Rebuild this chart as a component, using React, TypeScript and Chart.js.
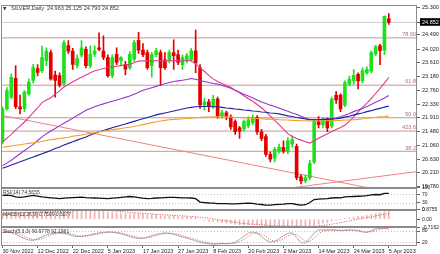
import React, { useEffect, useRef } from "react";
import { Chart, registerables } from "chart.js";
Chart.register(...registerables);

// ---------- data ----------
const dates = [
  "30 Nov 2022", "1 Dec 2022", "2 Dec 2022", "5 Dec 2022", "6 Dec 2022", "7 Dec 2022", "8 Dec 2022", "9 Dec 2022", "12 Dec 2022", "13 Dec 2022",
  "14 Dec 2022", "15 Dec 2022", "16 Dec 2022", "19 Dec 2022", "20 Dec 2022", "21 Dec 2022", "22 Dec 2022", "23 Dec 2022", "27 Dec 2022", "28 Dec 2022",
  "29 Dec 2022", "30 Dec 2022", "3 Jan 2023", "4 Jan 2023", "5 Jan 2023", "6 Jan 2023", "9 Jan 2023", "10 Jan 2023", "11 Jan 2023", "12 Jan 2023",
  "13 Jan 2023", "16 Jan 2023", "17 Jan 2023", "18 Jan 2023", "19 Jan 2023", "20 Jan 2023", "23 Jan 2023", "24 Jan 2023", "25 Jan 2023", "26 Jan 2023",
  "27 Jan 2023", "30 Jan 2023", "31 Jan 2023", "1 Feb 2023", "2 Feb 2023", "3 Feb 2023", "6 Feb 2023", "7 Feb 2023", "8 Feb 2023", "9 Feb 2023",
  "10 Feb 2023", "13 Feb 2023", "14 Feb 2023", "15 Feb 2023", "16 Feb 2023", "17 Feb 2023", "20 Feb 2023", "21 Feb 2023", "22 Feb 2023", "23 Feb 2023",
  "24 Feb 2023", "27 Feb 2023", "28 Feb 2023", "1 Mar 2023", "2 Mar 2023", "3 Mar 2023", "6 Mar 2023", "7 Mar 2023", "8 Mar 2023", "9 Mar 2023",
  "10 Mar 2023", "13 Mar 2023", "14 Mar 2023", "15 Mar 2023", "16 Mar 2023", "17 Mar 2023", "20 Mar 2023", "21 Mar 2023", "22 Mar 2023", "23 Mar 2023",
  "24 Mar 2023", "27 Mar 2023", "28 Mar 2023", "29 Mar 2023", "30 Mar 2023", "31 Mar 2023", "3 Apr 2023", "4 Apr 2023", "5 Apr 2023",
];
const dateTickIdx = [0, 8, 16, 24, 32, 40, 48, 56, 64, 72, 80, 88];

const opens = [
  21.18, 22.19, 22.55, 23.13, 22.25, 22.19, 22.65, 23.06, 23.43, 23.36,
  23.67, 23.92, 23.23, 23.21, 22.96, 24.14, 23.97, 23.53, 23.84, 24.02,
  23.52, 23.87, 24.07, 23.97, 23.77, 23.21, 23.87, 23.67, 23.56, 23.46,
  23.72, 24.30, 24.00, 23.92, 23.52, 23.86, 23.92, 23.70, 23.68, 23.92,
  23.86, 23.55, 23.68, 23.70, 23.98, 23.46, 22.31, 22.40, 22.25, 22.49,
  21.97, 22.06, 21.94, 21.79, 21.60, 21.57, 21.66, 21.76, 21.92, 21.48,
  21.33, 20.78, 20.66, 20.88, 21.00, 20.88, 21.10, 21.03, 20.09, 19.96,
  20.06, 20.55, 21.80, 21.70, 21.82, 21.66, 22.60, 22.61, 22.30, 22.95,
  23.05, 23.25, 23.05, 23.30, 23.35, 23.88, 24.13, 24.00, 24.963,
];
const highs = [
  22.25, 22.84, 23.26, 23.52, 22.61, 22.75, 23.11, 23.56, 23.55, 24.12,
  24.07, 24.00, 23.35, 23.30, 24.29, 24.29, 24.05, 23.85, 24.29, 24.10,
  24.13, 24.13, 24.53, 24.44, 23.85, 23.85, 24.07, 23.80, 23.65, 23.95,
  24.30, 24.55, 24.20, 24.00, 23.92, 24.05, 24.00, 23.92, 24.00, 24.32,
  24.00, 23.85, 23.90, 24.05, 24.62, 23.55, 22.50, 22.48, 22.60, 22.55,
  22.15, 22.12, 22.00, 21.85, 21.65, 21.85, 21.95, 22.00, 21.98, 21.55,
  21.40, 20.85, 21.00, 21.10, 21.20, 21.30, 21.35, 21.10, 20.15, 20.15,
  20.60, 21.85, 21.95, 21.90, 21.90, 22.55, 22.72, 22.65, 23.05, 23.20,
  23.40, 23.30, 23.45, 23.48, 23.98, 24.15, 24.18, 25.06, 25.125,
];
const lows = [
  21.10, 22.14, 22.50, 22.19, 22.03, 22.10, 22.60, 22.98, 23.20, 23.30,
  23.52, 23.07, 22.55, 22.86, 22.90, 23.90, 23.40, 23.45, 23.78, 23.45,
  23.45, 23.80, 23.98, 23.70, 23.16, 23.15, 23.55, 23.55, 23.23, 23.40,
  23.65, 23.90, 23.80, 23.40, 23.16, 23.80, 22.90, 23.40, 23.60, 23.40,
  23.55, 23.40, 23.60, 23.65, 23.30, 22.20, 22.15, 22.10, 22.20, 21.90,
  21.90, 21.85, 21.55, 21.40, 21.27, 21.50, 21.60, 21.70, 21.40, 21.20,
  20.72, 20.55, 20.55, 20.82, 20.82, 20.80, 21.00, 20.00, 19.87, 19.90,
  20.00, 20.50, 21.60, 21.60, 21.48, 21.60, 22.35, 22.10, 22.25, 22.90,
  22.95, 22.80, 22.98, 23.25, 23.30, 23.82, 23.55, 23.86, 24.79,
];
const closes = [
  22.19, 22.75, 23.16, 22.25, 22.18, 22.70, 23.01, 23.46, 23.31, 23.77,
  23.97, 23.11, 23.06, 22.92, 24.23, 23.97, 23.56, 23.74, 24.07, 23.52,
  23.87, 23.97, 24.02, 23.77, 23.21, 23.77, 23.62, 23.77, 23.41, 23.87,
  24.23, 24.00, 23.86, 23.46, 23.86, 23.98, 23.46, 23.46, 23.92, 23.83,
  23.62, 23.77, 23.83, 23.98, 23.60, 22.31, 22.40, 22.25, 22.49, 21.97,
  22.06, 21.97, 21.63, 21.48, 21.50, 21.79, 21.85, 21.92, 21.48, 21.27,
  20.78, 20.63, 20.94, 21.00, 20.88, 21.20, 21.24, 20.06, 19.96, 20.06,
  20.50, 21.80, 21.70, 21.82, 21.60, 22.49, 22.46, 22.18, 23.00, 23.10,
  23.22, 23.05, 23.37, 23.40, 23.92, 24.10, 23.98, 25.04, 24.852,
];

const maPink = [
  21.15, 21.28, 21.40, 21.53, 21.65, 21.78, 21.92, 22.07, 22.22, 22.38,
  22.46, 22.53, 22.64, 22.74, 22.86, 22.94, 23.02, 23.09, 23.16, 23.23,
  23.30, 23.36, 23.39, 23.43, 23.46, 23.48, 23.50, 23.52, 23.54, 23.56,
  23.61, 23.66, 23.67, 23.66, 23.66, 23.67, 23.67, 23.66, 23.67, 23.68,
  23.67, 23.67, 23.67, 23.67, 23.58, 23.45, 23.34, 23.22, 23.11, 23.03,
  22.97, 22.91, 22.85, 22.76, 22.68, 22.59, 22.50, 22.42, 22.32, 22.22,
  22.10, 21.96, 21.83, 21.70, 21.56, 21.42, 21.33, 21.27, 21.22, 21.17,
  21.13, 21.20, 21.28, 21.35, 21.42, 21.49, 21.55, 21.61, 21.68, 21.80,
  21.94, 22.09, 22.23, 22.36, 22.50, 22.66, 22.82, 22.98, 23.16,
];
const maPurple = [
  20.44, 20.51, 20.60, 20.70, 20.80, 20.90, 20.99, 21.09, 21.21, 21.32,
  21.42, 21.50, 21.58, 21.66, 21.74, 21.82, 21.90, 21.98, 22.06, 22.14,
  22.20, 22.25, 22.30, 22.34, 22.38, 22.42, 22.46, 22.50, 22.54, 22.58,
  22.64, 22.70, 22.76, 22.80, 22.84, 22.88, 22.92, 22.96, 23.00, 23.03,
  23.05, 23.07, 23.09, 23.12, 23.10, 23.06, 23.03, 23.00, 22.97, 22.95,
  22.91, 22.87, 22.82, 22.76, 22.70, 22.64, 22.58, 22.52, 22.46, 22.40,
  22.35, 22.30, 22.26, 22.21, 22.16, 22.11, 22.06, 22.02, 21.96, 21.90,
  21.86, 21.85, 21.85, 21.86, 21.87, 21.88, 21.90, 21.94, 21.99, 22.04,
  22.10, 22.15, 22.20, 22.26, 22.32, 22.39, 22.45, 22.52, 22.60,
];
const maBlue = [
  20.35, 20.40, 20.45, 20.50, 20.55, 20.60, 20.65, 20.70, 20.75, 20.80,
  20.85, 20.90, 20.96, 21.01, 21.07, 21.12, 21.17, 21.22, 21.27, 21.32,
  21.38, 21.43, 21.48, 21.52, 21.56, 21.60, 21.64, 21.68, 21.72, 21.76,
  21.80, 21.84, 21.88, 21.92, 21.96, 22.00, 22.03, 22.06, 22.09, 22.12,
  22.15, 22.18, 22.21, 22.23, 22.25, 22.26, 22.26, 22.26, 22.25, 22.25,
  22.23, 22.21, 22.20, 22.18, 22.17, 22.15, 22.14, 22.12, 22.11, 22.09,
  22.08, 22.06, 22.05, 22.03, 22.00, 21.97, 21.95, 21.92, 21.90, 21.87,
  21.85, 21.85, 21.85, 21.86, 21.86, 21.87, 21.88, 21.90, 21.93, 21.96,
  22.00, 22.03, 22.06, 22.10, 22.13, 22.17, 22.20, 22.24, 22.27,
];
const maOrange = [
  21.00, 21.02, 21.04, 21.06, 21.08, 21.10, 21.12, 21.14, 21.16, 21.18,
  21.21, 21.23, 21.25, 21.27, 21.29, 21.31, 21.34, 21.36, 21.38, 21.40,
  21.43, 21.45, 21.48, 21.50, 21.52, 21.54, 21.56, 21.58, 21.60, 21.62,
  21.64, 21.67, 21.70, 21.73, 21.76, 21.79, 21.81, 21.83, 21.85, 21.86,
  21.87, 21.88, 21.89, 21.90, 21.91, 21.92, 21.93, 21.93, 21.94, 21.94,
  21.94, 21.93, 21.93, 21.92, 21.92, 21.91, 21.90, 21.90, 21.89, 21.88,
  21.87, 21.87, 21.86, 21.85, 21.84, 21.84, 21.83, 21.83, 21.82, 21.82,
  21.81, 21.81, 21.81, 21.81, 21.82, 21.82, 21.83, 21.83, 21.84, 21.84,
  21.85, 21.86, 21.88, 21.89, 21.91, 21.92, 21.94, 21.95, 21.97,
];

const rsiValues = [
  65, 66, 64, 58, 56, 58, 62, 65, 62, 58,
  56, 54, 52, 50, 52, 54, 55, 56, 57, 55,
  54, 53, 52, 51, 50, 52, 54, 56, 58, 60,
  58, 55, 52, 50, 51, 53, 54, 55, 56, 56,
  55, 54, 54, 53, 50, 34, 32, 30, 29, 27,
  27, 27, 26, 26, 27, 28, 29, 28, 25, 23,
  20, 20, 22, 24, 25, 27, 27, 23, 20, 22,
  32, 46, 48, 49, 50, 53, 55, 54, 58, 59,
  60, 61, 62, 64, 67, 69, 68, 74, 74.5655,
];
const macdMain = [
  0.55, 0.60, 0.66, 0.64, 0.60, 0.60, 0.62, 0.67, 0.70, 0.74,
  0.78, 0.74, 0.70, 0.66, 0.82, 0.8755, 0.85, 0.82, 0.83, 0.79,
  0.77, 0.76, 0.75, 0.72, 0.64, 0.61, 0.57, 0.54, 0.50, 0.49,
  0.52, 0.52, 0.49, 0.43, 0.41, 0.39, 0.34, 0.30, 0.29, 0.28,
  0.25, 0.22, 0.20, 0.20, 0.17, 0.02, -0.08, -0.16, -0.20, -0.27,
  -0.30, -0.33, -0.38, -0.44, -0.48, -0.49, -0.48, -0.46, -0.49, -0.53,
  -0.60, -0.65, -0.66, -0.64, -0.63, -0.58, -0.53, -0.60, -0.68, -0.7162,
  -0.68, -0.55, -0.45, -0.36, -0.30, -0.18, -0.08, -0.03, 0.06, 0.13,
  0.20, 0.23, 0.29, 0.33, 0.42, 0.52, 0.57, 0.70, 0.7509,
];
const macdSignal = [
  0.45, 0.48, 0.51, 0.54, 0.56, 0.58, 0.60, 0.62, 0.64, 0.65,
  0.67, 0.68, 0.69, 0.70, 0.72, 0.74, 0.76, 0.78, 0.80, 0.81,
  0.81, 0.81, 0.80, 0.79, 0.77, 0.75, 0.72, 0.69, 0.66, 0.62,
  0.59, 0.56, 0.54, 0.51, 0.48, 0.45, 0.42, 0.39, 0.37, 0.34,
  0.32, 0.30, 0.27, 0.25, 0.23, 0.19, 0.14, 0.09, 0.03, -0.03,
  -0.09, -0.15, -0.21, -0.27, -0.33, -0.38, -0.42, -0.45, -0.48, -0.50,
  -0.52, -0.55, -0.58, -0.60, -0.61, -0.61, -0.61, -0.62, -0.63, -0.64,
  -0.64, -0.63, -0.60, -0.56, -0.50, -0.44, -0.37, -0.30, -0.22, -0.14,
  -0.06, 0.02, 0.09, 0.15, 0.22, 0.30, 0.38, 0.45, 0.5077,
];
const stochMain = [
  72, 75, 72, 62, 50, 40, 32, 30, 38, 50,
  60, 66, 70, 70, 68, 62, 55, 50, 52, 55,
  60, 66, 70, 73, 75, 74, 70, 65, 58, 50,
  44, 40, 42, 48, 55, 62, 67, 70, 68, 62,
  55, 48, 42, 35, 28, 20, 15, 12, 10, 12,
  14, 12, 14, 20, 35, 52, 68, 75, 68, 50,
  32, 20, 24, 38, 55, 68, 70, 45, 18, 15,
  40, 70, 85, 86, 84, 86, 85, 82, 84, 86,
  85, 80, 75, 72, 82, 92, 94, 95, 90.6778,
];
const stochSignal = [
  74, 74, 73, 70, 61, 51, 41, 34, 33, 39,
  49, 59, 65, 69, 69, 67, 62, 56, 52, 52,
  56, 60, 65, 70, 73, 74, 73, 70, 64, 58,
  51, 45, 42, 43, 48, 55, 61, 66, 68, 67,
  62, 55, 48, 42, 35, 28, 21, 16, 12, 11,
  12, 13, 13, 15, 23, 36, 52, 65, 70, 64,
  50, 34, 25, 27, 39, 54, 64, 61, 44, 26,
  24, 42, 65, 80, 85, 85, 85, 84, 84, 84,
  85, 84, 80, 76, 76, 82, 89, 94, 92.1961,
];

const priceTicks = [25.3, 24.49, 24.02, 23.61, 23.18, 22.76, 22.33, 21.91, 21.48, 21.06, 20.63, 20.21, 19.78];
const lastPrice = 24.852;
const fibLevels = [24.377, 22.916, 21.911, 21.5, 20.875];
const fibLabels = ["78.60", "61.8", "50.0", "423.6", "38.2"];
const trendAX = [-0.34, 83.3];
const trendAY = [21.99, 19.75];
const trendBX = [66.0, 94.42];
const trendBY = [19.75, 20.25];
const rsiTicks = [0, 30, 70, 100];
const rsiLevels = [30, 70];
const macdTicks = [-0.7162, 0, 0.8755];
const stochTicks = [20, 80];
const stochLevels = [20, 80];

const headerMain = "SILVER,Daily  24.963 25.125 24.790 24.852";
const headerRsi = "RSI(14) 74.5655";
const headerMacd = "MACD(12,26,9) 0.7509 0.5077";
const headerStoch = "Stoch(5,3,3) 90.6778 92.1961";

// ---------- styles ----------
const FONT = '"Liberation Sans", Arial, sans-serif';
const BULL = "#1fe01f";
const BEAR = "#e40000";
const FIB = "#c89696";
const FIB_TEXT = "#b36a6a";
const TREND = "#e98585";
const FRAME = "#8a8a8a";
const X_MIN = -0.34;
const X_MAX = 94.42;
const AXIS_W = 23;

const pts = (arr: number[]) => arr.map((v, i) => ({ x: i, y: v }));
const seg = (xs: number[], ys: number[]) => xs.map((x, i) => ({ x, y: ys[i] }));

const panelPlugin = {
  id: "mtPanels",
  beforeDatasetsDraw(chart: any) {
    const { ctx, chartArea } = chart;
    ctx.save();
    ctx.lineWidth = 1;
    ctx.strokeStyle = "#c4c4c4";
    ctx.setLineDash([1, 2]);
    const lv = (scale: any, v: number) => {
      const py = Math.round(scale.getPixelForValue(v)) + 0.5;
      ctx.beginPath();
      ctx.moveTo(chartArea.left, py);
      ctx.lineTo(chartArea.right, py);
      ctx.stroke();
    };
    rsiLevels.forEach((v) => lv(chart.scales.rsi, v));
    stochLevels.forEach((v) => lv(chart.scales.stoch, v));
    ctx.restore();
  },
  afterDatasetsDraw(chart: any) {
    const { ctx, chartArea } = chart;
    const ys = chart.scales.y;
    ctx.save();
    ctx.font = `5.5px ${FONT}`;
    ctx.fillStyle = FIB_TEXT;
    ctx.textAlign = "right";
    ctx.textBaseline = "bottom";
    fibLevels.forEach((v, i) => {
      ctx.fillText(fibLabels[i], chartArea.right - 1, ys.getPixelForValue(v) - 0.5);
    });
    ctx.restore();
  },
  afterDraw(chart: any) {
    const { ctx, chartArea } = chart;
    ctx.save();
    ctx.strokeStyle = FRAME;
    ctx.lineWidth = 1;
    ["y", "rsi", "macd", "stoch"].forEach((id) => {
      const s = chart.scales[id];
      const t = Math.round(s.top);
      const b = Math.round(s.bottom);
      ctx.strokeRect(chartArea.left + 0.5, t + 0.5, chartArea.right - chartArea.left - 1, b - t - 1);
    });
    ctx.fillStyle = "#333";
    ctx.textBaseline = "middle";
    ctx.textAlign = "left";
    const top = (id: string) => chart.scales[id].top;
    ctx.font = `4.5px "DejaVu Sans", sans-serif`;
    ctx.fillText("\u25BC", 3, top("y") + 3.2);
    ctx.font = `5.5px ${FONT}`;
    ctx.fillText(headerMain, 11, top("y") + 3.2);
    ctx.font = `5px ${FONT}`;
    ctx.fillText(headerRsi, 3, top("rsi") + 4.5);
    ctx.fillText(headerMacd, 3, top("macd") + 5);
    ctx.fillText(headerStoch, 3, top("stoch") + 4.5);
    ctx.restore();
  },
};

function rightAxis(extra: any) {
  return {
    type: "linear",
    position: "right",
    stack: "panes",
    offset: false,
    afterFit: (s: any) => {
      s.width = AXIS_W;
    },
    grid: { drawOnChartArea: false, drawTicks: true, tickLength: 3, color: "#666" },
    border: { display: false },
    ...extra,
  };
}

export default function App() {
  const ref = useRef<HTMLCanvasElement | null>(null);

  useEffect(() => {
    if (!ref.current) return;
    const idx = closes.map((_, i) => i);
    const candleColors = idx.map((i) => (closes[i] >= opens[i] ? BULL : BEAR));

    const line = (data: any[], color: string, axis: string, extra: any = {}) => ({
      type: "line",
      data,
      borderColor: color,
      borderWidth: 1.1,
      pointRadius: 0,
      tension: 0,
      yAxisID: axis,
      ...extra,
    });

    const datasets: any[] = [
      ...fibLevels.map((v) => line(seg([X_MIN, X_MAX], [v, v]), FIB, "y", { borderWidth: 1, order: 10 })),
      line(seg([X_MIN, X_MAX], [lastPrice, lastPrice]), "#cfcfcf", "y", { borderWidth: 1, order: 10 }),
      line(seg(trendAX, trendAY), TREND, "y", { borderWidth: 1, order: 9 }),
      line(seg(trendBX, trendBY), TREND, "y", { borderWidth: 1, order: 9 }),
      {
        type: "bar",
        data: idx.map((i) => ({ x: i, y: [lows[i], highs[i]] })),
        backgroundColor: candleColors,
        barThickness: 1,
        grouped: false,
        yAxisID: "y",
        order: 4,
      },
      {
        type: "bar",
        data: idx.map((i) => ({ x: i, y: [opens[i], closes[i]] })),
        backgroundColor: candleColors,
        barThickness: 3,
        minBarLength: 1,
        grouped: false,
        yAxisID: "y",
        order: 3,
      },
      line(pts(maOrange), "#f0a030", "y", { order: 1 }),
      line(pts(maBlue), "#22229e", "y", { order: 1 }),
      line(pts(maPurple), "#9a34cf", "y", { order: 1 }),
      line(pts(maPink), "#e2388c", "y", { order: 1 }),
      line(pts(rsiValues), "#111", "rsi", { borderWidth: 1.3, order: 1 }),
      {
        type: "bar",
        data: pts(macdMain),
        backgroundColor: "#efb2b2",
        barThickness: 1,
        grouped: false,
        yAxisID: "macd",
        order: 3,
      },
      line(pts(macdSignal), "#e04545", "macd", { borderWidth: 1, borderDash: [1, 1.5], order: 1 }),
      line(pts(stochMain), "#a8a8a8", "stoch", { borderWidth: 1, order: 2 }),
      line(pts(stochSignal), "#e05050", "stoch", { borderWidth: 1, borderDash: [1, 1.5], order: 1 }),
    ];

    const tickFont = { size: 5.5, family: FONT };
    const smallFont = { size: 5, family: FONT };

    const chart = new Chart(ref.current, {
      type: "bar",
      data: { datasets },
      plugins: [panelPlugin],
      options: {
        animation: false,
        responsive: false,
        maintainAspectRatio: false,
        events: [],
        layout: { padding: { left: 1, top: 2, right: 0, bottom: 0 } },
        plugins: { legend: { display: false }, tooltip: { enabled: false } },
        scales: {
          x: {
            type: "linear",
            min: X_MIN,
            max: X_MAX,
            offset: false,
            afterBuildTicks: (s: any) => {
              s.ticks = dateTickIdx.map((v) => ({ value: v }));
            },
            afterFit: (s: any) => {
              s.height = 8;
            },
            grid: { display: true, drawOnChartArea: false, drawTicks: true, tickLength: 2, color: "#666", offset: false },
            border: { display: false },
            ticks: {
              autoSkip: false,
              maxRotation: 0,
              minRotation: 0,
              align: "start",
              padding: 0,
              color: "#222",
              font: tickFont,
              callback: (v: any) => dates[v as number] ?? "",
            },
          },
          y: rightAxis({
            stackWeight: 185,
            min: 19.749,
            max: 25.382,
            afterBuildTicks: (s: any) => {
              s.ticks = [...priceTicks, lastPrice].map((v) => ({ value: v }));
            },
            ticks: {
              autoSkip: false,
              padding: 2,
              font: tickFont,
              color: (c: any) => (c.tick && c.tick.value === lastPrice ? "#fff" : "#222"),
              showLabelBackdrop: (c: any) => !!(c.tick && c.tick.value === lastPrice),
              backdropColor: "#000",
              backdropPadding: { left: 2, right: 2, top: 1, bottom: 0 },
              callback: (v: any) => Number(v).toFixed(3),
            },
          }),
          rsi: rightAxis({
            stackWeight: 22,
            min: 0,
            max: 100,
            afterBuildTicks: (s: any) => {
              s.ticks = rsiTicks.map((v) => ({ value: v }));
            },
            ticks: { autoSkip: false, padding: 2, font: smallFont, color: "#222", callback: (v: any) => String(v) },
          }),
          macd: rightAxis({
            stackWeight: 18,
            min: -0.7162,
            max: 0.8755,
            afterBuildTicks: (s: any) => {
              s.ticks = macdTicks.map((v) => ({ value: v }));
            },
            ticks: {
              autoSkip: false,
              padding: 2,
              font: smallFont,
              color: "#222",
              callback: (v: any) => (Number(v) === 0 ? "0.00" : Number(v).toFixed(4)),
            },
          }),
          stoch: rightAxis({
            stackWeight: 19,
            min: 0,
            max: 100,
            afterBuildTicks: (s: any) => {
              s.ticks = stochTicks.map((v) => ({ value: v }));
            },
            ticks: { autoSkip: false, padding: 2, font: smallFont, color: "#222", callback: (v: any) => String(v) },
          }),
        },
      } as any,
    } as any);

    return () => chart.destroy();
  }, []);

  return (
    <div style={{ position: "fixed", left: 0, top: 0, width: 440, height: 254, background: "#fff" }}>
      <canvas ref={ref} width={440} height={254} style={{ display: "block", width: 440, height: 254 }} />
    </div>
  );
}
